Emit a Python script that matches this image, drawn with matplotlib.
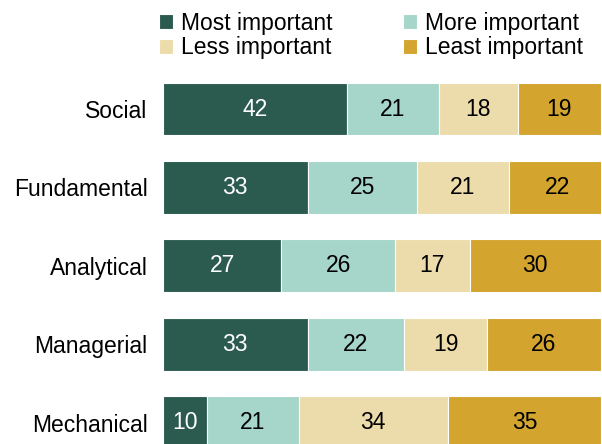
import matplotlib.pyplot as plt
import numpy as np

plt.rcParams['font.family'] = ['Liberation Sans', 'DejaVu Sans']

categories = ['Social', 'Fundamental', 'Analytical', 'Managerial', 'Mechanical']
series_names = ['Most important', 'More important', 'Less important', 'Least important']
most = [42, 33, 27, 33, 10]
more = [21, 25, 26, 22, 21]
less = [18, 21, 17, 19, 34]
least = [19, 22, 30, 26, 35]
colors = ['#2b5b4f', '#a6d5ca', '#eddcab', '#d3a42e']
text_colors = ['white', 'black', 'black', 'black']

fig = plt.figure(figsize=(6.02, 4.44), dpi=100)
ax = fig.add_axes([163 / 602, 0, 438 / 602, 374 / 444])

y = np.arange(len(categories))
left = np.zeros(len(categories))
for vals, name, c, tc in zip([most, more, less, least], series_names, colors, text_colors):
    bars = ax.barh(y, vals, left=left, height=0.675, color=c, edgecolor='white',
                   linewidth=0.8, label=name)
    for yi, l, v in zip(y, left, vals):
        ax.text(l + v / 2, yi, str(v), ha='center', va='center', color=tc, fontsize=16.5)
    left += np.array(vals)

ax.set_xlim(0, 100)
ax.set_ylim(4.268, -0.497)
ax.set_yticks(y)
ax.set_yticklabels(categories, fontsize=16.5)
ax.tick_params(axis='y', length=0, pad=11)
ax.set_xticks([])
for s in ax.spines.values():
    s.set_visible(False)

handles, labels = ax.get_legend_handles_labels()
order = [0, 2, 1, 3]
fig.legend([handles[i] for i in order], [labels[i] for i in order], ncol=2,
           loc='upper left', bbox_to_anchor=(143 / 602, 1.01), frameon=False,
           fontsize=16.5, handlelength=0.6, handleheight=0.6, handletextpad=0.35,
           columnspacing=3.1, labelspacing=0.08, borderaxespad=0.3)

fig.savefig('out.png', dpi=100)
